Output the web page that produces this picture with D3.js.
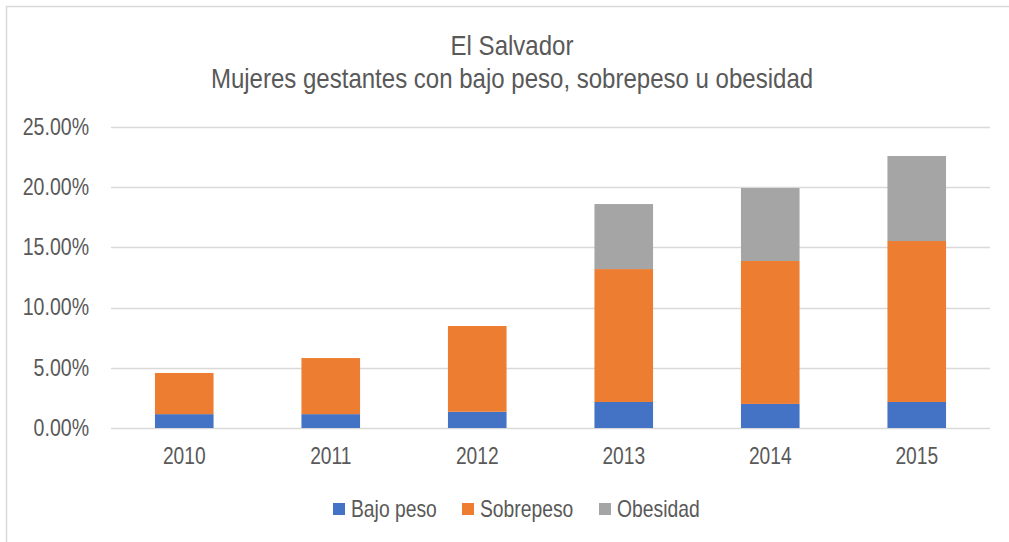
<!DOCTYPE html>
<head>
<meta charset="utf-8">
<title>El Salvador</title>
<style>
    body { margin:0; background:#fff; }
    svg { display:block; }
    text { font-family: "Liberation Sans", Arial, sans-serif; fill:#595959; }
</style>
</head>
<body>
<svg width="1009" height="542"></svg>
<script src="https://cdnjs.cloudflare.com/ajax/libs/d3/7.8.5/d3.min.js"></script>
<script>
var years = ["2010", "2011", "2012", "2013", "2014", "2015"];
var bajoPeso   = [1.15, 1.15, 1.35, 2.16, 2.0, 2.16];
var sobrepeso  = [3.42, 4.66, 7.12, 11.04, 11.87, 13.37];
var obesidad   = [0, 0, 0, 5.4, 6.06, 7.06];
var seriesNames = ["Bajo peso", "Sobrepeso", "Obesidad"];
var colors = ["#4472C4", "#ED7D31", "#A5A5A5"];
var yTicks = [0, 5, 10, 15, 20, 25];

var svg = d3.select("svg");

// marco del grafico
svg.append("path")
    .attr("d", "M6.5,542 V6.5 H1009")
    .attr("fill", "none")
    .attr("stroke", "#d9d9d9")
    .attr("stroke-width", 1.5);

var plotL = 111, plotR = 990, plotT = 127, plotB = 428;

var x = d3.scaleBand().domain(years).range([plotL, plotR]).paddingInner(0.6).paddingOuter(0.3);
var y = d3.scaleLinear().domain([0, 25]).range([plotB, plotT]);

// texto estrechado en horizontal
function label(px, py, str, size, sx, anchor) {
  return svg.append("text")
    .attr("transform", "translate(" + px + "," + py + ") scale(" + sx + ",1)")
    .attr("text-anchor", anchor || "start")
    .style("font-size", size + "px")
    .text(str);
}

// titulo
label(512, 55, "El Salvador", 27, 0.89, "middle");
label(512, 88, "Mujeres gestantes con bajo peso, sobrepeso u obesidad", 27, 0.89, "middle");

// rejilla
svg.append("g").selectAll("line").data(yTicks).join("line")
    .attr("x1", plotL).attr("x2", plotR)
    .attr("y1", d => Math.round(y(d)) + 0.5).attr("y2", d => Math.round(y(d)) + 0.5)
    .attr("stroke", "#d9d9d9").attr("stroke-width", 1.5);

var sy = 0.85;
var yAxis = svg.append("g").attr("transform", "translate(" + plotL + ",0)")
    .call(d3.axisLeft(y).tickValues(yTicks).tickSize(0).tickFormat(d => d.toFixed(2) + "%"));
yAxis.select(".domain").remove();
yAxis.selectAll("text")
    .attr("x", -22 / sy)
    .attr("transform", "scale(" + sy + ",1)")
    .attr("fill", "#595959")
    .style("font-size", "23px");

var xAxis = svg.append("g").attr("transform", "translate(0," + plotB + ")")
    .call(d3.axisBottom(x).tickSize(0).tickPadding(19));
xAxis.select(".domain").remove();
xAxis.selectAll("text")
    .attr("transform", "scale(0.8,1)")
    .attr("fill", "#595959")
    .style("font-size", "24px");

// barras apiladas
var table = years.map(function(yr, i) {
  return { year: yr, b: bajoPeso[i], s: sobrepeso[i], o: obesidad[i] };
});
var stack = d3.stack().keys(["b", "s", "o"])(table);

svg.append("g").selectAll("g").data(stack).join("g")
    .attr("fill", (d, i) => colors[i])
  .selectAll("rect").data(d => d).join("rect")
    .attr("x", d => x(d.data.year))
    .attr("width", x.bandwidth())
    .attr("y", d => y(d[1]))
    .attr("height", d => y(d[0]) - y(d[1]));

// leyenda
var legendX = [333, 462, 599];
seriesNames.forEach(function(name, i) {
  svg.append("rect").attr("x", legendX[i]).attr("y", 503)
     .attr("width", 12).attr("height", 12).attr("fill", colors[i]);
  label(legendX[i] + 18, 517, name, 23, 0.84, "start");
});
</script>
</body>
